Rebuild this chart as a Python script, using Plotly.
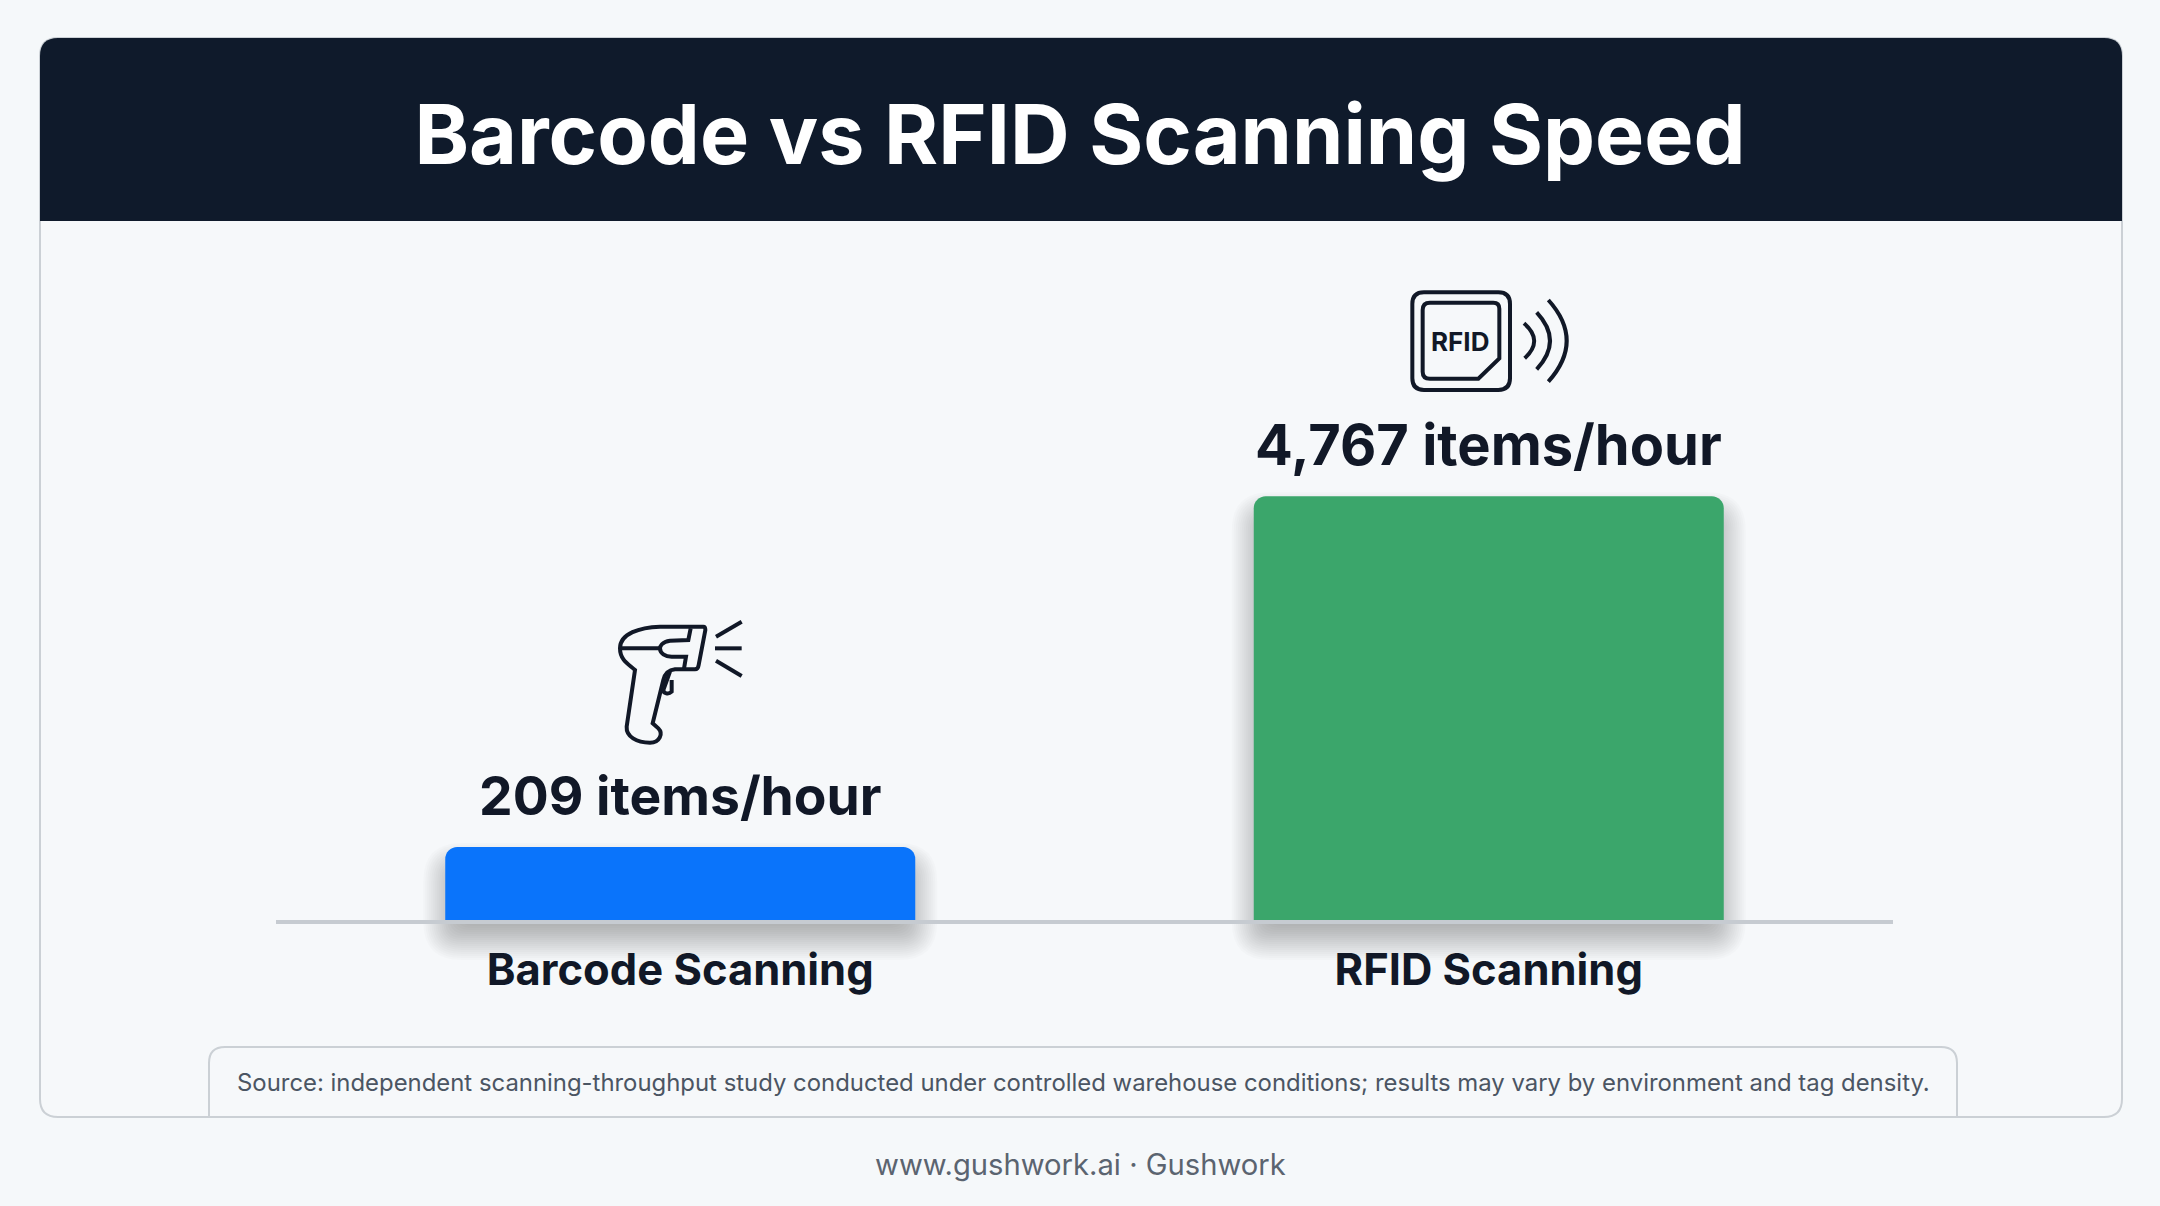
import math
import re
import plotly.graph_objects as go

# ---- data ----
categories = ["Barcode Scanning", "RFID Scanning"]
items_per_hour = [209, 4767]
unit = "items/hour"
bar_colors = ["#0A74FB", "#3BA66B"]
label_sizes = [53.4, 56]

title_text = "Barcode vs RFID Scanning Speed"
source_text = ("Source: independent scanning-throughput study conducted under controlled "
               "warehouse conditions; results may vary by environment and tag density.")
footer_text = "www.gushwork.ai · Gushwork"

# ---- page geometry ----
W, H = 2160, 1206
BG = "#F5F8FA"
INK = "#111827"
FONT = "Inter"
PLOT_L, PLOT_R, PLOT_T, PLOT_B = 276, 1893, 240, 920
LOG_LO, LOG_HI = 2.0375, 4.67   # hidden log axis


def px(x):
    return x / W


def py(y):
    return 1 - y / H


def transform(path, ox=0.0, oy=0.0, k=1.0):
    """Turn an SVG path in picture pixels into one in paper coordinates."""
    out = []
    for cmd, args in re.findall(r"([MLQCZ])([^MLQCZ]*)", path):
        nums = [float(n) for n in re.findall(r"-?\d+\.?\d*", args)]
        pts = []
        for i in range(0, len(nums), 2):
            pts.append(f"{px(ox + nums[i] * k):.6f},{py(oy + nums[i + 1] * k):.6f}")
        out.append(cmd + " ".join(pts))
    return " ".join(out)


def rounded(x0, y0, x1, y1, r):
    return (f"M{x0 + r} {y0} L{x1 - r} {y0} Q{x1} {y0} {x1} {y0 + r} L{x1} {y1 - r} Q{x1} {y1} {x1 - r} {y1} "
            f"L{x0 + r} {y1} Q{x0} {y1} {x0} {y1 - r} L{x0} {y0 + r} Q{x0} {y0} {x0 + r} {y0} Z")


def path_shape(path, fill="rgba(0,0,0,0)", line=None, width=0, opacity=1, layer="below"):
    d = dict(type="path", path=transform(path), xref="paper", yref="paper", fillcolor=fill,
             opacity=opacity, layer=layer, line=dict(width=width, color=line or "rgba(0,0,0,0)"))
    return d


def icon_shape(path, ox, oy, k=1 / 3, width=4):
    return dict(type="path", path=transform(path, ox, oy, k), xref="paper", yref="paper",
                fillcolor="rgba(0,0,0,0)", layer="above", line=dict(width=width, color=INK))


def value_to_y(v):
    return PLOT_B - (math.log10(v) - LOG_LO) / (LOG_HI - LOG_LO) * (PLOT_B - PLOT_T)


shapes = []
# card
shapes.append(path_shape(rounded(40, 38, 2122, 1117, 18), fill="#F6F8FA", line="#CBD0D5", width=2))
# header band
shapes.append(path_shape("M40 221 L40 56 Q40 38 58 38 L2104 38 Q2122 38 2122 56 L2122 221 Z", fill="#0F1A2B"))
# source box (open at the bottom, sits on the card edge)
shapes.append(path_shape("M209 1117 L209 1063 Q209 1047 225 1047 L1941 1047 Q1957 1047 1957 1063 L1957 1117",
                         line="#CBD0D5", width=2))

# soft shadow under each bar, built from its value
slot = (PLOT_R - PLOT_L) / len(categories)
bar_w = 470
for i, v in enumerate(items_per_hour):
    cx = PLOT_L + slot * (i + 0.5)
    top = value_to_y(v)
    for s in range(-16, 23, 2):
        shapes.append(path_shape(rounded(cx - bar_w / 2 - s, top + 18 - s, cx + bar_w / 2 + s, PLOT_B + 18 + s, 16 + max(s, 0)),
                                 fill="#000000", opacity=0.014))

# scanner icon (drawn in a 3x grid)
scanner = [
    "M430 110 L300 110 C240 112 180 130 180 175 C180 210 205 222 225 240 L200 410 C198 440 230 458 270 458 "
    "C300 458 310 430 295 415 L278 400 L310 270 C315 250 325 240 345 238 L405 238 C412 238 415 232 416 225 "
    "L436 120 C436 112 434 110 430 110 Z",
    "M180 175 L300 175",
    "M392 115 L385 150 L330 152 C305 155 300 170 300 175 C300 190 315 200 335 200 L378 200 L372 236",
    "M330 245 L310 300 C310 310 325 315 335 305 L335 270",
    "M468 140 L545 95",
    "M465 175 L545 175",
    "M468 212 L545 258",
]
for p in scanner:
    shapes.append(icon_shape(p, 560, 590))

# RFID tag icon (drawn in a 3x grid)
tag = [
    rounded(97, 67, 390, 360, 35),
    "M150 98 L340 98 Q358 98 358 116 L358 265 L295 326 L150 326 Q128 326 128 305 L128 120 Q128 98 150 98 Z",
    "M432 160 Q492 212 434 265",
    "M470 127 Q550 212 470 298",
    "M505 90 Q615 212 505 335",
]
for p in tag:
    shapes.append(icon_shape(p, 1380, 270))

annotations = []
for cat, v, size in zip(categories, items_per_hour, label_sizes):
    annotations.append(dict(
        x=cat, y=math.log10(v), xref="x", yref="y", yshift=51, xanchor="center", yanchor="middle", showarrow=False,
        text=f"{v:,} {unit}", font=dict(family=FONT, size=size, color=INK, weight=700),
    ))

annotations += [
    dict(x=px(1460), y=py(341), xref="paper", yref="paper", xanchor="center", yanchor="middle", showarrow=False,
         text="RFID", font=dict(family=FONT, size=26, color=INK, weight=700)),
    dict(x=px(1083), y=py(1082), xref="paper", yref="paper", xanchor="center", yanchor="middle", showarrow=False,
         text=source_text, font=dict(family=FONT, size=23.9, color="#4B5563")),
    dict(x=0.5, y=py(1164), xref="paper", yref="paper", xanchor="center", yanchor="middle", showarrow=False,
         text=footer_text, font=dict(family=FONT, size=29.2, color="#5B6470")),
]

fig = go.Figure(go.Bar(
    x=categories, y=items_per_hour, marker=dict(color=bar_colors, line=dict(width=0)),
    hoverinfo="skip", width=bar_w / slot,
))

fig.update_layout(
    width=W, height=H, autosize=False,
    margin=dict(l=0, r=0, t=0, b=0, pad=0),
    paper_bgcolor=BG, plot_bgcolor="rgba(0,0,0,0)",
    showlegend=False, barcornerradius=12,
    title=dict(text=title_text, x=0.5, xanchor="center", xref="paper", y=py(135), yref="paper", yanchor="middle",
               font=dict(family=FONT, size=82.6, color="#FFFFFF", weight=700)),
    xaxis=dict(domain=[px(PLOT_L), px(PLOT_R)], range=[-0.5, 1.5], type="category",
               showgrid=False, zeroline=False, showline=True, linecolor="#C6CBD1", linewidth=4,
               ticks="", ticklabelstandoff=9, automargin=False,
               tickfont=dict(family=FONT, size=43.5, color=INK, weight=700)),
    yaxis=dict(domain=[py(PLOT_B), py(PLOT_T)], type="log", range=[LOG_LO, LOG_HI], visible=False),
    shapes=shapes, annotations=annotations,
)

fig.write_html("out.html", config=dict(displayModeBar=False),
               post_script="document.body.style.margin='0';document.body.style.background='%s';" % BG)
